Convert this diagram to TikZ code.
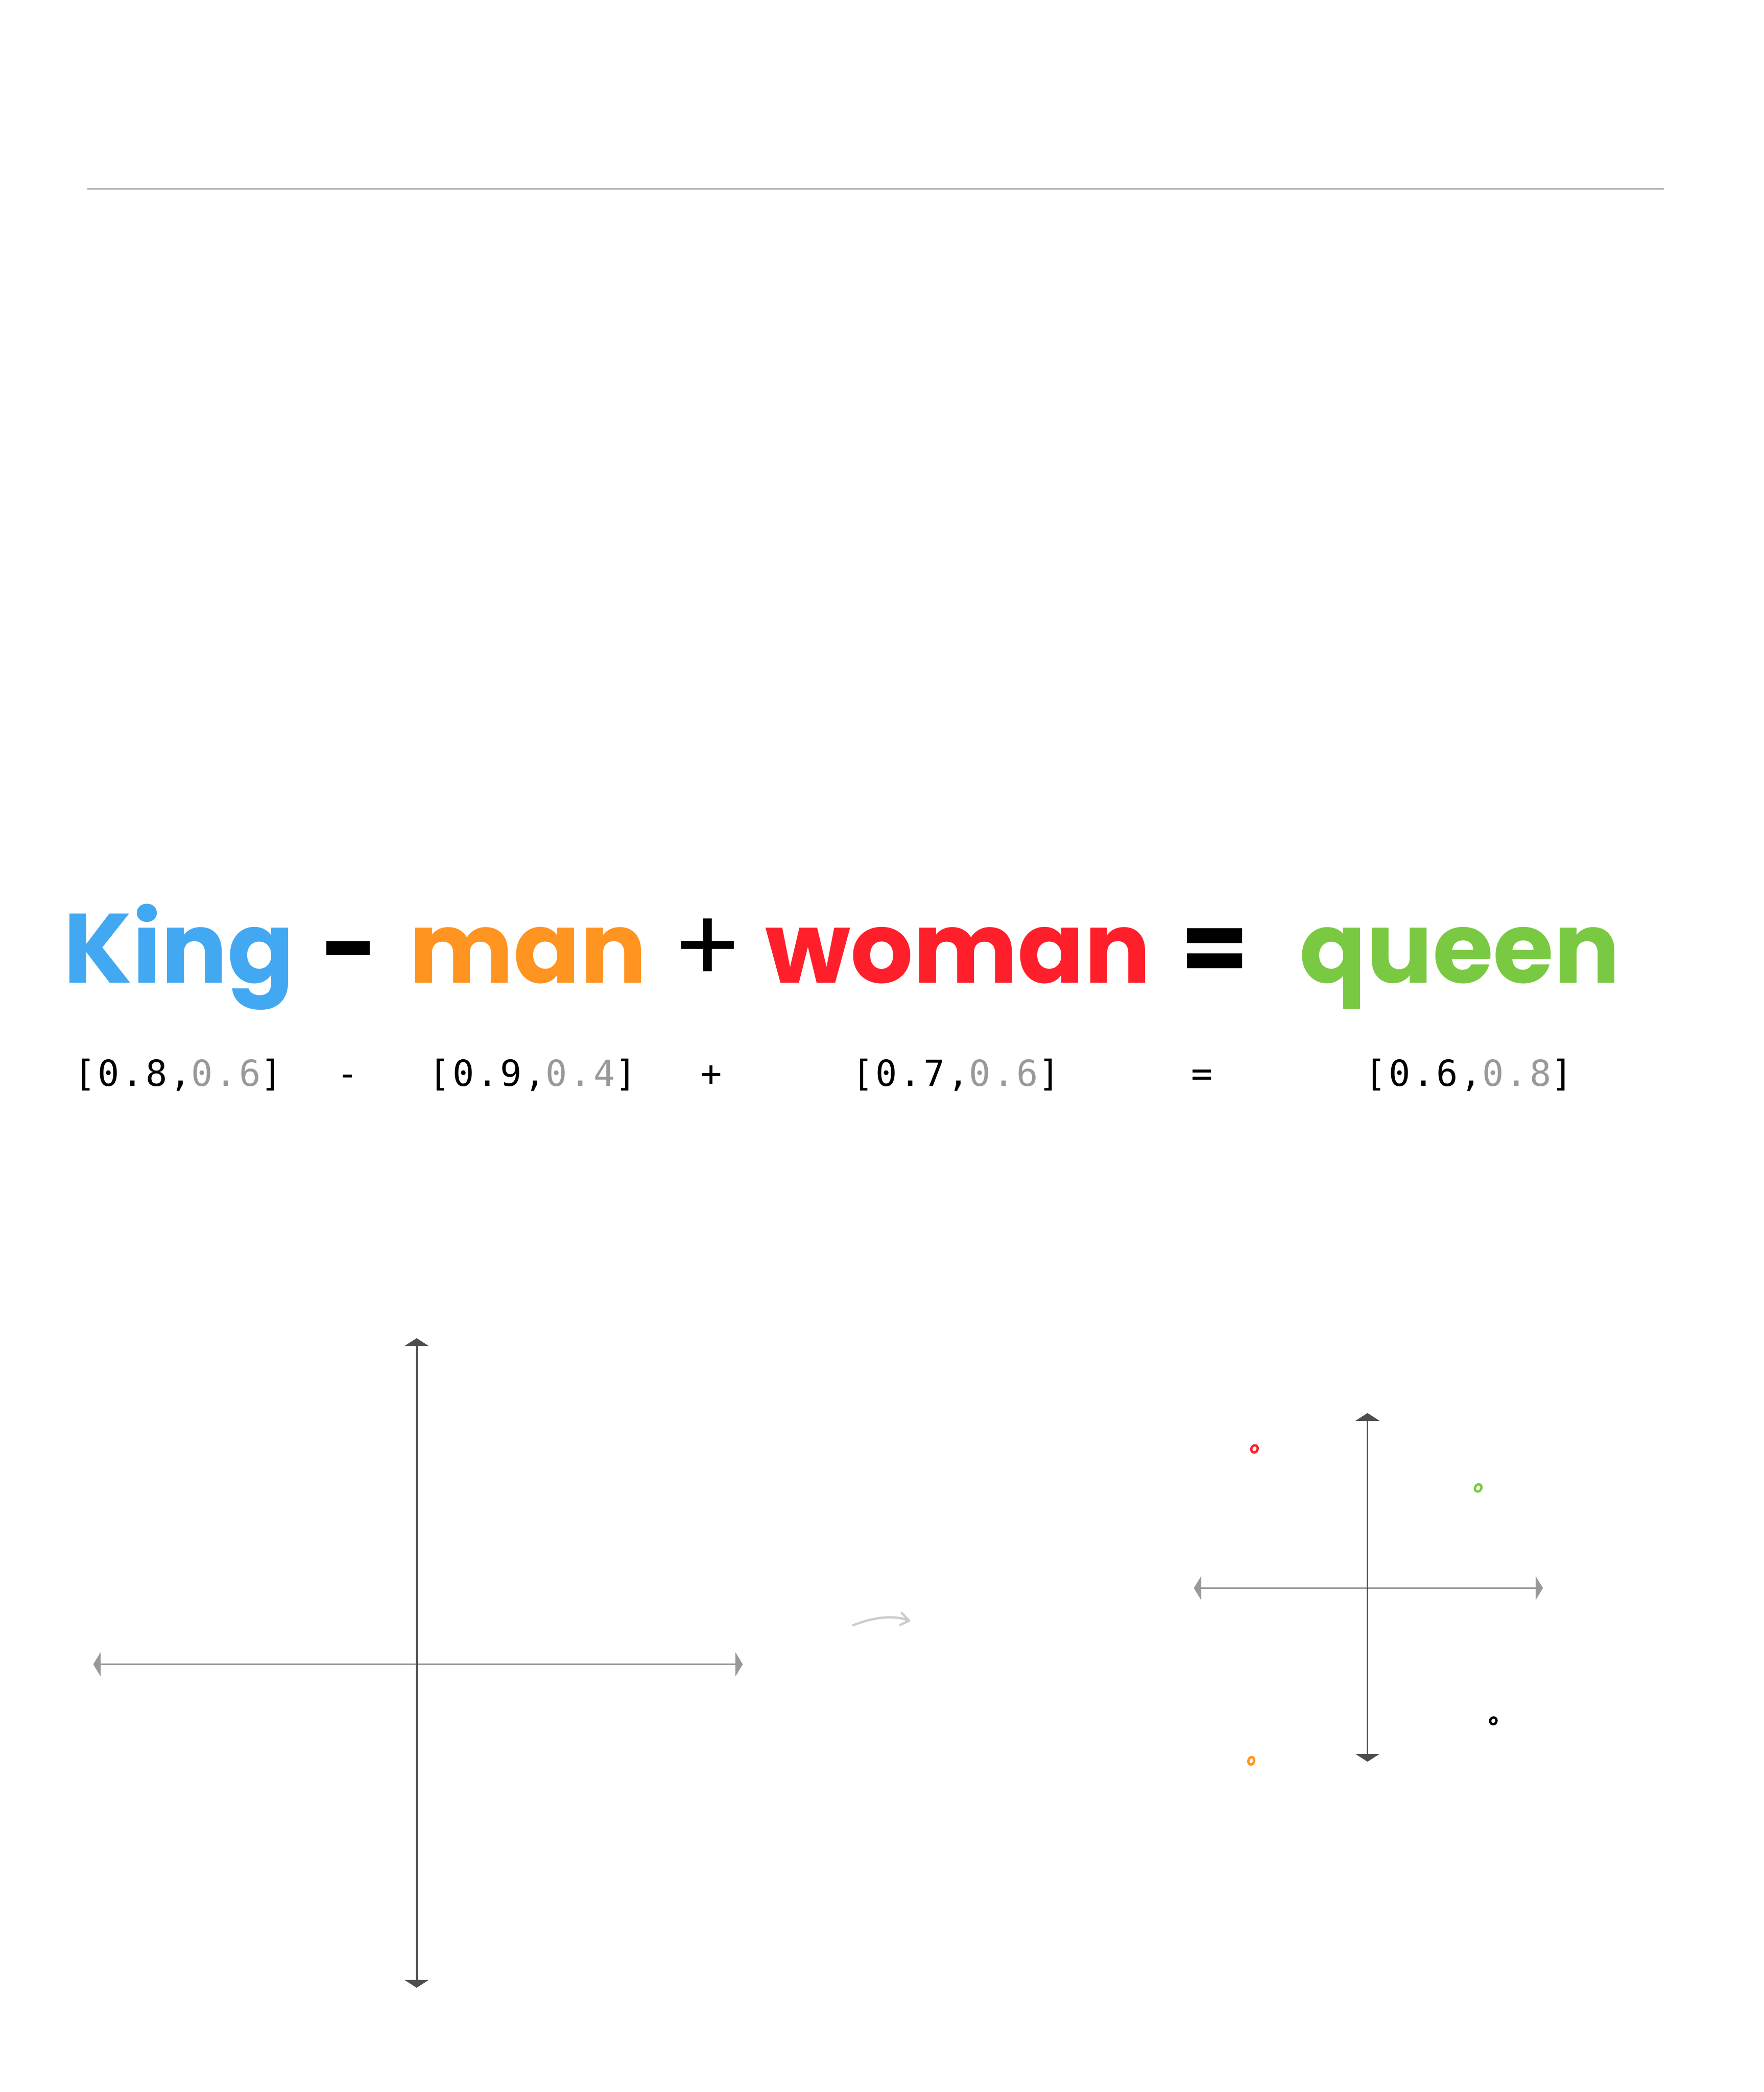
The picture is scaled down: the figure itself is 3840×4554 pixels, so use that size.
\documentclass[tikz,border=0pt]{standalone}
\usepackage{fontspec}
\usetikzlibrary{arrows.meta}
\newfontfamily\wordfont{Poppins}
\newfontfamily\vecfont[LetterSpace=6.4]{DejaVu Sans Mono}
\definecolor{kingblue}{RGB}{66,168,242}
\definecolor{manorange}{RGB}{255,148,33}
\definecolor{womanred}{RGB}{255,31,42}
\definecolor{queengreen}{RGB}{122,201,67}
\definecolor{dimgray}{RGB}{153,153,153}
\definecolor{axisdark}{RGB}{77,77,77}
\definecolor{axislight}{RGB}{153,153,153}
\definecolor{rulegray}{RGB}{128,128,128}
\definecolor{curvegray}{RGB}{204,204,204}
\tikzset{
  word/.style={anchor=base, inner sep=0pt, font=\wordfont\bfseries\fontsize{61pt}{66pt}\selectfont},
  opthin/.style={anchor=base, inner sep=0pt, font=\wordfont\fontsize{64pt}{70pt}\selectfont},
  vec/.style={anchor=base, inner sep=0pt, font=\vecfont\fontsize{22.2pt}{26pt}\selectfont},
  axisv/.style={draw=axisdark, line width=1.14pt, {Triangle[length=0.17cm,width=0.52cm]}-{Triangle[length=0.17cm,width=0.52cm]}},
  axish/.style={draw=axislight, line width=1.14pt, {Triangle[length=0.16cm,width=0.52cm]}-{Triangle[length=0.16cm,width=0.52cm]}},
  ring/.style={line width=1.45pt},
}
\begin{document}
\begin{tikzpicture}[x=0.01cm,y=-0.01cm]
\useasboundingbox (0,0) rectangle (3840,4554);
% top rule
\coordinate (ruleL) at (190,411);
\coordinate (ruleR) at (3622,411);
\draw[rulegray, line width=0.57pt] (ruleL) -- (ruleR);
% equation words
\node[word, text=kingblue] (king) at (390,2140) {King};
\node[word] (minus) at (762,2140) {-};
\node[word, text=manorange] (man) at (1150,2140) {man};
\node[opthin] (plus) at (1541,2140) {+};
\node[word, text=womanred] (woman) at (2086,2140) {woman};
\node[word] (equals) at (2645,2140) {=};
\node[word, text=queengreen] (queen) at (3178,2140) {queen};
% vectors
\node[vec] (vking) at (388,2364) {[0.8,\textcolor{dimgray}{0.6}]};
\node[vec] (vminus) at (757,2364) {-};
\node[vec] (vman) at (1160,2364) {[0.9,\textcolor{dimgray}{0.4}]};
\node[vec] (vplus) at (1548,2364) {+};
\node[vec] (vwoman) at (2081,2364) {[0.7,\textcolor{dimgray}{0.6}]};
\node[vec] (vequals) at (2617,2364) {=};
\node[vec] (vqueen) at (3198,2364) {[0.6,\textcolor{dimgray}{0.8}]};
% left axes
\coordinate (lTop) at (907,2913);
\coordinate (lBot) at (907,4327);
\coordinate (lLeft) at (203,3623);
\coordinate (lRight) at (1617,3623);
\draw[axish] (lLeft) -- (lRight);
\draw[axisv] (lBot) -- (lTop);
% curved arrow
\coordinate (cStart) at (1857,3538);
\coordinate (cTip) at (1979,3528);
\coordinate (cBarbA) at (1963,3511);
\coordinate (cBarbB) at (1960,3537);
\draw[curvegray, line width=1.4pt, line cap=round, line join=round]
  (cStart) .. controls (1900,3521) and (1945,3514) .. (cTip);
\draw[curvegray, line width=1.4pt, line cap=round, line join=round]
  (cBarbA) -- (cTip) -- (cBarbB);
% right axes
\coordinate (rTop) at (2977,3076);
\coordinate (rBot) at (2977,3835);
\coordinate (rLeft) at (2599,3457);
\coordinate (rRight) at (3359,3457);
\draw[axish] (rLeft) -- (rRight);
\draw[axisv] (rBot) -- (rTop);
% points
\draw[ring, womanred, shift={(2731,3154)}, rotate=-25] (0,0) ellipse [x radius=6.8, y radius=8];
\draw[ring, queengreen, shift={(3218,3239)}, rotate=-30] (0,0) ellipse [x radius=6.8, y radius=8.3];
\draw[ring, black, shift={(3251,3746)}, rotate=-20] (0,0) ellipse [x radius=6.8, y radius=7.5];
\draw[ring, manorange, shift={(2724,3833)}, rotate=-15] (0,0) ellipse [x radius=6.3, y radius=8.3];
\end{tikzpicture}
\end{document}
